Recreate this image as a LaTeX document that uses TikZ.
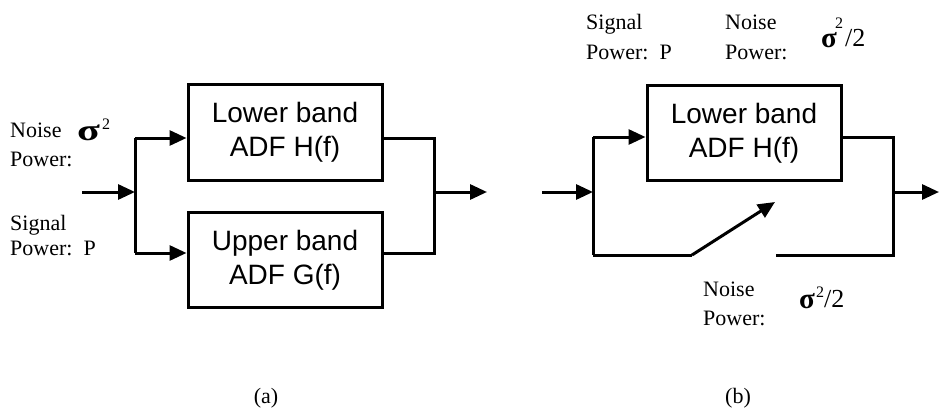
\documentclass[tikz,border=0pt]{standalone}
\usepackage{fontspec}
\setmainfont{Liberation Serif}
\newfontfamily\arialf{Liberation Sans}
\usetikzlibrary{arrows.meta}
\tikzset{
  wire/.style={line width=3pt, line join=miter},
  arr/.style={wire, -{Triangle[length=17pt,width=15pt]}},
  blk/.style={draw, line width=3pt, minimum width=194pt, minimum height=95pt, align=center,
    font=\arialf\fontsize{28}{34}\selectfont, inner sep=0pt},
  lbl/.style={anchor=base west, inner sep=0pt, font=\fontsize{22}{26}\selectfont},
  sigbig/.style={anchor=base west, inner sep=0pt, font=\bfseries\fontsize{30}{32}\selectfont},
  sig/.style={anchor=base west, inner sep=0pt, font=\bfseries\fontsize{29}{32}\selectfont},
  supl/.style={anchor=base west, inner sep=0pt, font=\fontsize{16}{18}\selectfont},
  fracl/.style={anchor=base west, inner sep=0pt, font=\fontsize{26}{30}\selectfont},
  capl/.style={anchor=base, inner sep=0pt, font=\fontsize{22}{24}\selectfont}
}
\begin{document}
\begin{tikzpicture}[x=1pt,y=-1pt]
\useasboundingbox (0,0) rectangle (939,409);
% ---------- (a) ----------
\node[blk] (lba) at (285,132.5) {Lower band\\ADF H(f)};
\node[blk] (uba) at (285,260) {Upper band\\ADF G(f)};
\coordinate (ina) at (82,192);
\coordinate (ja) at (135,192);
\coordinate (jat) at (135,138);
\coordinate (jab) at (135,253);
\coordinate (oat) at (434,138);
\coordinate (oab) at (434,253);
\coordinate (oa) at (434,192);
\coordinate (outa) at (487,192);
\draw[arr] (ina) -- (ja);
\draw[wire] (jat) -- (jab);
\draw[arr] (jat) -- (lba.west |- jat);
\draw[arr] (jab) -- (uba.west |- jab);
\draw[wire] (lba.east |- oat) -- (oat) -- (oab) -- (uba.east |- oab);
\draw[arr] (oa) -- (outa);
\node[lbl] (n1) at (10,137.5) {Noise};
\node[lbl] (n2) at (10,166) {Power:};
\node[sigbig] (s1) at (77,140) {\scalebox{1.4}[1]{σ}};
\node[supl] (s1s) at (102,130) {2};
\node[lbl] (g1) at (10,230) {Signal};
\node[lbl] (g2) at (10,255) {Power:\ \ P};
\node[capl] (ca) at (266,403) {(a)};
% ---------- (b) ----------
\node[blk] (lbb) at (744,133) {Lower band\\ADF H(f)};
\coordinate (inb) at (542,192);
\coordinate (jb) at (593,192);
\coordinate (jbt) at (593,137);
\coordinate (jbb) at (593,255);
\coordinate (sw0) at (692,255);
\coordinate (sw1) at (775,202);
\coordinate (sw2) at (776,255);
\coordinate (obb) at (893,255);
\coordinate (obt) at (893,137);
\coordinate (ob) at (893,192);
\coordinate (outb) at (939,192);
\draw[arr] (inb) -- (jb);
\draw[wire] (jbt) -- (jbb);
\draw[arr] (jbt) -- (lbb.west |- jbt);
\draw[wire] (jbb) -- (sw0);
\draw[arr] (sw0) -- (sw1);
\draw[wire] (sw2) -- (obb) -- (obt) -- (lbb.east |- obt);
\draw[arr] (ob) -- (outb);
\node[lbl] (t1) at (586,30) {Signal};
\node[lbl] (t2) at (586,60) {Power:\ \ P};
\node[lbl] (t3) at (725,30) {Noise};
\node[lbl] (t4) at (725,60) {Power:};
\node[sig] (t5) at (821,48) {σ};
\node[supl] (t5s) at (835,29) {2};
\node[fracl] (t5f) at (845,47) {/2};
\node[lbl] (b1) at (703,296) {Noise};
\node[lbl] (b2) at (703,325) {Power:};
\node[sig] (b3) at (799,308) {σ};
\node[supl] (b3s) at (816,297) {2};
\node[fracl] (b3f) at (824,307) {/2};
\node[capl] (cb) at (738,403) {(b)};
\end{tikzpicture}
\end{document}
